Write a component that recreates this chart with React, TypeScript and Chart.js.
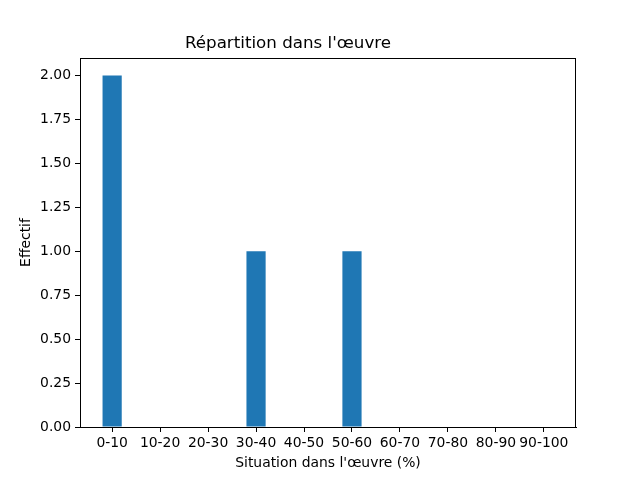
import React, { useEffect, useRef } from "react";
import { Chart, registerables } from "chart.js";

Chart.register(...registerables);

const categories = ["0-10", "10-20", "20-30", "30-40", "40-50", "50-60", "60-70", "70-80", "80-90", "90-100"];
const counts = [2, 0, 0, 1, 0, 1, 0, 0, 0, 0];
const yTicks = [0, 0.25, 0.5, 0.75, 1.0, 1.25, 1.5, 1.75, 2.0];
const titleText = "Répartition dans l'œuvre";
const xLabel = "Situation dans l'œuvre (%)";
const yLabel = "Effectif";

const FONT = "'DejaVu Sans', sans-serif";
const BAR_COLOR = "#1f77b4";

const framePlugin = {
  id: "frame",
  afterDraw(chart: any) {
    const { ctx, chartArea } = chart;
    ctx.save();
    ctx.strokeStyle = "#000";
    ctx.lineWidth = 1;
    ctx.strokeRect(
      Math.round(chartArea.left) + 0.5,
      Math.round(chartArea.top) + 0.5,
      Math.round(chartArea.right - chartArea.left) - 1,
      Math.round(chartArea.bottom - chartArea.top)
    );
    ctx.restore();
  },
};

export default function App() {
  const ref = useRef<HTMLCanvasElement>(null);
  useEffect(() => {
    if (!ref.current) return;
    const chart = new Chart(ref.current, {
      type: "bar",
      data: {
        datasets: [
          {
            data: counts.map((v, i) => ({ x: i, y: v })),
            backgroundColor: BAR_COLOR,
            borderColor: BAR_COLOR,
            borderWidth: 0,
            inflateAmount: 0,
            categoryPercentage: 1,
            barPercentage: 0.4,
          },
        ],
      },
      options: {
        responsive: false,
        animation: false,
        devicePixelRatio: 1,
        layout: { padding: { left: 0, right: 64, top: 0, bottom: 0 } },
        plugins: {
          legend: { display: false },
          tooltip: { enabled: false },
          title: {
            display: true,
            text: titleText,
            color: "#000",
            font: { family: FONT, size: 16.7, weight: "normal" },
            padding: { top: 34, bottom: 4 },
          },
        },
        scales: {
          x: {
            type: "linear",
            offset: false,
            min: -0.67,
            max: 9.67,
            afterBuildTicks: (scale: any) => {
              scale.ticks = categories.map((_, i) => ({ value: i }));
            },
            afterFit: (scale: any) => {
              scale.height = 53;
            },
            ticks: {
              color: "#000",
              font: { family: FONT, size: 13.9 },
              padding: 3,
              maxRotation: 0,
              autoSkip: false,
              callback: (v: any) => categories[Math.round(Number(v))] ?? "",
            },
            grid: { offset: false, drawOnChartArea: false, drawTicks: true, tickLength: 5, color: "#000" },
            border: { display: true, color: "#000" },
            title: {
              display: true,
              text: xLabel,
              color: "#000",
              font: { family: FONT, size: 13.9 },
              padding: { top: 0, bottom: 8 },
            },
          },
          y: {
            type: "linear",
            min: 0,
            max: 2.1,
            afterBuildTicks: (scale: any) => {
              scale.ticks = yTicks.map((v) => ({ value: v }));
            },
            afterFit: (scale: any) => {
              scale.width = 80;
            },
            ticks: {
              color: "#000",
              font: { family: FONT, size: 13.9 },
              padding: 4,
              callback: (v: any) => Number(v).toFixed(2),
            },
            grid: { drawOnChartArea: false, drawTicks: true, tickLength: 5, color: "#000" },
            border: { display: true, color: "#000" },
            title: {
              display: true,
              text: yLabel,
              color: "#000",
              font: { family: FONT, size: 13.9 },
              padding: { top: 18, bottom: 0 },
            },
          },
        },
      },
      plugins: [framePlugin],
    } as any);
    return () => chart.destroy();
  }, []);
  return (
    <div style={{ position: "absolute", left: 0, top: 0, width: 640, height: 480, background: "#fff" }}>
      <canvas ref={ref} width={640} height={480} style={{ width: 640, height: 480 }} />
    </div>
  );
}
